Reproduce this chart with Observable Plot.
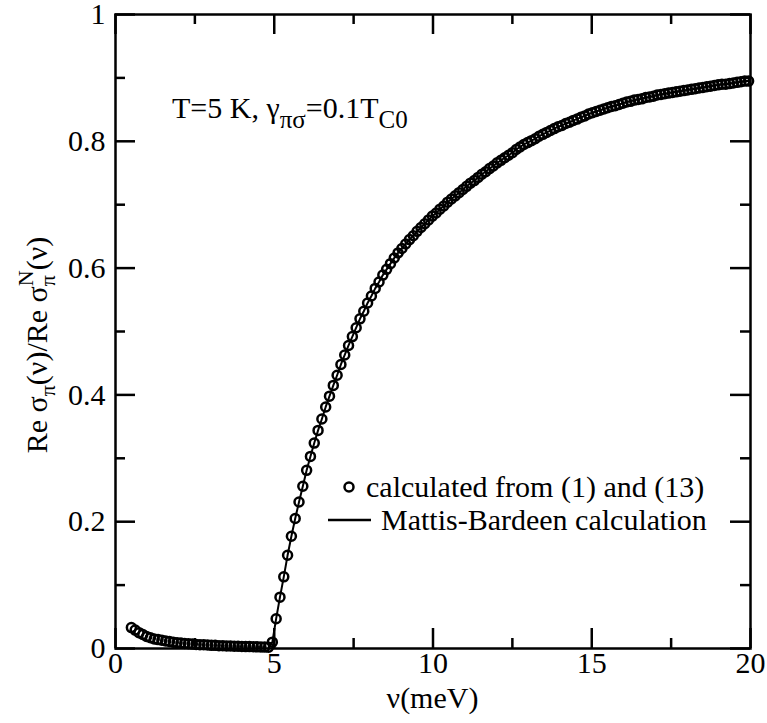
<!DOCTYPE html>
<html><head><meta charset="utf-8">
<script src="https://cdn.jsdelivr.net/npm/d3@7"></script>
<script src="https://cdn.jsdelivr.net/npm/@observablehq/plot@0.6"></script>
<style>html,body{margin:0;padding:0;background:#fff}svg{display:block}svg text{font-family:'Liberation Serif','Times New Roman',serif !important}</style>
</head><body><div id="chart"></div>
<script>
// frequency grid (meV) of the calculated points
const nu = [0.50,0.62,0.74,0.86,0.98,1.10,1.22,1.34,1.46,1.58,
1.70,1.82,1.94,2.06,2.18,2.30,2.42,2.54,2.66,2.78,
2.90,3.02,3.14,3.26,3.38,3.50,3.62,3.74,3.86,3.98,
4.10,4.22,4.34,4.46,4.58,4.70,4.82,4.94,5.06,5.18,
5.30,5.42,5.54,5.66,5.78,5.90,6.02,6.14,6.26,6.38,
6.50,6.62,6.74,6.86,6.98,7.10,7.22,7.34,7.46,7.58,
7.70,7.82,7.94,8.06,8.18,8.30,8.42,8.54,8.66,8.78,
8.90,9.02,9.14,9.26,9.38,9.50,9.62,9.74,9.86,9.98,
10.10,10.22,10.34,10.46,10.58,10.70,10.82,10.94,11.06,11.18,
11.30,11.42,11.54,11.66,11.78,11.90,12.02,12.14,12.26,12.38,
12.50,12.62,12.74,12.86,12.98,13.10,13.22,13.34,13.46,13.58,
13.70,13.82,13.94,14.06,14.18,14.30,14.42,14.54,14.66,14.78,
14.90,15.02,15.14,15.26,15.38,15.50,15.62,15.74,15.86,15.98,
16.10,16.22,16.34,16.46,16.58,16.70,16.82,16.94,17.06,17.18,
17.30,17.42,17.54,17.66,17.78,17.90,18.02,18.14,18.26,18.38,
18.50,18.62,18.74,18.86,18.98,19.10,19.22,19.34,19.46,19.58,
19.70,19.82,19.94];
// Re sigma_pi(nu) / Re sigma_pi^N(nu), calculated from (1) and (13)
const ratio = [0.033,0.029,0.025,0.022,0.019,0.017,0.015,0.014,0.013,0.012,
0.011,0.010,0.009,0.0085,0.008,0.0075,0.007,0.0065,0.006,0.006,
0.0055,0.005,0.005,0.0045,0.0045,0.004,0.004,0.0037,0.0035,0.0033,
0.003,0.003,0.0028,0.0026,0.0024,0.0022,0.002,0.010,0.047,0.081,
0.113,0.147,0.177,0.205,0.231,0.256,0.281,0.303,0.324,0.344,
0.362,0.381,0.398,0.415,0.431,0.448,0.463,0.478,0.492,0.506,
0.520,0.532,0.545,0.556,0.568,0.578,0.589,0.598,0.607,0.616,
0.624,0.631,0.638,0.645,0.651,0.658,0.664,0.670,0.676,0.682,
0.687,0.693,0.698,0.704,0.709,0.714,0.719,0.724,0.729,0.734,
0.738,0.743,0.748,0.752,0.757,0.761,0.766,0.770,0.774,0.778,
0.782,0.787,0.791,0.795,0.798,0.801,0.804,0.808,0.811,0.814,
0.817,0.820,0.823,0.825,0.828,0.830,0.833,0.835,0.838,0.840,
0.843,0.845,0.847,0.849,0.851,0.853,0.855,0.856,0.858,0.860,
0.862,0.863,0.865,0.866,0.867,0.869,0.870,0.871,0.873,0.874,
0.875,0.876,0.877,0.878,0.879,0.880,0.881,0.882,0.883,0.884,
0.885,0.886,0.887,0.888,0.889,0.890,0.890,0.891,0.892,0.893,
0.894,0.895,0.895];
// Mattis-Bardeen curve: starts at the gap edge
const mbStartIndex = 36;

const xMajor = [0,5,10,15,20];
const xMinor = [2.5,7.5,12.5,17.5];
const yMajor = [0,0.2,0.4,0.6,0.8,1];
const yMinor = [0.1,0.3,0.5,0.7,0.9];

const points = nu.map((x,i)=>({x, y: ratio[i]}));
const mbLine = points.slice(mbStartIndex);

const W = 767, H = 723;
const mL = 115, mR = 17, mT = 14, mB = 75;
const fw = W - mL - mR, fh = H - mT - mB;
const MAJ = 20, MIN = 10, TW = 2.5;
const FONT = "'Liberation Serif','Times New Roman',serif";
const SUB = 25;

const plot = Plot.plot({
  width: W, height: H,
  marginLeft: mL, marginRight: mR, marginTop: mT, marginBottom: mB,
  style: {fontFamily: FONT, fontSize: "30px", background: "white", color: "black", overflow: "visible"},
  x: {domain: [0,20]},
  y: {domain: [0,1]},
  marks: [
    // inward ticks on all four sides
    Plot.tickX(xMajor, {x: d=>d, insetTop: fh - MAJ, strokeWidth: TW}),
    Plot.tickX(xMinor, {x: d=>d, insetTop: fh - MIN, strokeWidth: TW}),
    Plot.tickX(xMajor, {x: d=>d, insetBottom: fh - MAJ, strokeWidth: TW}),
    Plot.tickX(xMinor, {x: d=>d, insetBottom: fh - MIN, strokeWidth: TW}),
    Plot.tickY(yMajor, {y: d=>d, insetRight: fw - MAJ, strokeWidth: TW}),
    Plot.tickY(yMinor, {y: d=>d, insetRight: fw - MIN, strokeWidth: TW}),
    Plot.tickY(yMajor, {y: d=>d, insetLeft: fw - MAJ, strokeWidth: TW}),
    Plot.tickY(yMinor, {y: d=>d, insetLeft: fw - MIN, strokeWidth: TW}),
    Plot.axisX({ticks: xMajor, tickSize: 0, tickPadding: 3, tickFormat: d=>String(d), fontSize: 30, fontFamily: FONT, label: null}),
    Plot.axisY({ticks: yMajor, tickSize: 0, tickPadding: 10, tickFormat: d=>String(d), fontSize: 30, fontFamily: FONT, label: null}),
    Plot.line(mbLine, {x: "x", y: "y", stroke: "black", strokeWidth: 2}),
    Plot.dot(points, {x: "x", y: "y", r: 4.5, stroke: "black", strokeWidth: 2.5, fill: "none"}),
    Plot.frame({stroke: "black", strokeWidth: TW})
  ]
});
document.getElementById("chart").appendChild(plot);

const svg = d3.select(plot).attr("font-family", FONT);
const g = svg.append("g").attr("font-family", FONT).attr("fill", "black").attr("text-anchor", "start");

// x-axis label
g.append("text").attr("x", mL + fw/2).attr("y", 708).attr("text-anchor", "middle")
  .attr("font-size", 30).text("ν(meV)");

// y-axis label
const yl = g.append("text").attr("transform", `translate(47,${mT + fh/2 + 14}) rotate(-90)`)
  .attr("text-anchor", "middle").attr("font-size", 30);
yl.append("tspan").text("Re σ");
yl.append("tspan").attr("font-size", 22).attr("dy", 8).text("π");
yl.append("tspan").attr("dy", -8).text("(ν)/Re σ");
yl.append("tspan").attr("font-size", 22).attr("dy", 8).text("π");
yl.append("tspan").attr("font-size", 22).attr("dx", -11).attr("dy", -22).text("N");
yl.append("tspan").attr("dy", 14).text("(ν)");

// annotation
const an = g.append("text").attr("x", 172).attr("y", 118).attr("font-size", 30).attr("text-anchor", "start");
an.append("tspan").text("T=5 K, γ");
an.append("tspan").attr("font-size", SUB).attr("dy", 10).text("πσ");
an.append("tspan").attr("dy", -10).text("=0.1T");
an.append("tspan").attr("font-size", SUB).attr("dy", 10).text("C0");

// legend
g.append("circle").attr("cx", 349).attr("cy", 487).attr("r", 4.5)
  .attr("fill", "none").attr("stroke", "black").attr("stroke-width", 2.5);
g.append("text").attr("x", 366).attr("y", 497).attr("font-size", 30).attr("text-anchor", "start")
  .text("calculated from (1) and (13)");
g.append("line").attr("x1", 328).attr("x2", 371).attr("y1", 520).attr("y2", 520)
  .attr("stroke", "black").attr("stroke-width", 2.5);
g.append("text").attr("x", 381).attr("y", 530).attr("font-size", 30).attr("text-anchor", "start")
  .text("Mattis-Bardeen calculation");
</script>
</body></html>
